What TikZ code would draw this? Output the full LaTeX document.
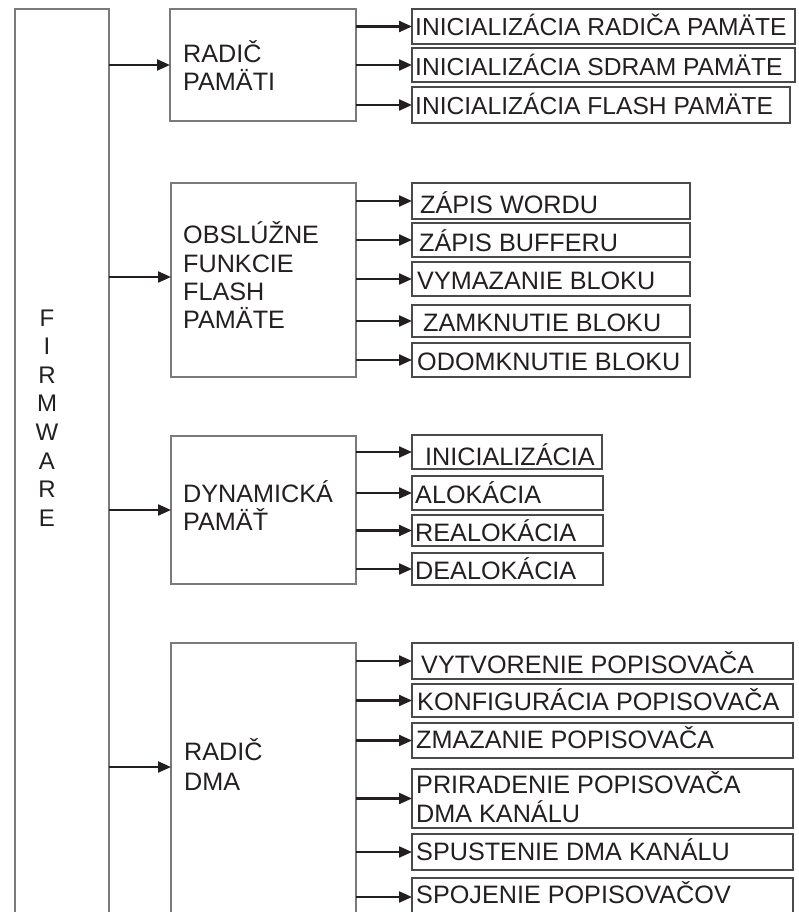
\documentclass[tikz,border=0pt]{standalone}
\usepackage{fontspec}
\setmainfont{Liberation Sans}
\usetikzlibrary{arrows.meta}
\definecolor{ink}{HTML}{231F20}
\definecolor{frame}{HTML}{7A7A7A}
\definecolor{subframe}{HTML}{4A4A4A}
\tikzset{
  mainbox/.style={draw=frame, line width=1.4pt, inner sep=0pt, outer sep=0pt},
  subbox/.style={draw=subframe, line width=1.4pt, inner sep=0pt, outer sep=0pt},
  arr/.style={draw=ink, line width=2.2pt, -{Triangle[length=13pt,width=11pt]}},
  lbl/.style={anchor=base west, inner sep=0pt, text=ink, font=\fontsize{25.2}{28}\selectfont},
  lblsmall/.style={lbl, font=\fontsize{24.6}{28}\selectfont},
}
\newcommand\bx[6]{\node[#1, minimum width={(#4-#2)*1pt}, minimum height={(#5-#3)*1pt}] (#6) at ({(#2+#4)/2},{(#3+#5)/2}) {};}
\begin{document}
\begin{tikzpicture}[x=1pt,y=-1pt]
\useasboundingbox (0,0) rectangle (798,912);
\clip (0,0) rectangle (798,912);
% firmware
\bx{mainbox}{15}{9}{109}{940}{fw}
\node[align=center, inner sep=0pt, text=ink, font=\fontsize{24}{28.6}\selectfont] (fwtext) at (47,418) {F\\I\\R\\M\\W\\A\\R\\E};
% main boxes
\bx{mainbox}{170}{9}{356}{121}{m1}
\bx{mainbox}{171}{183}{356}{377}{m2}
\bx{mainbox}{171}{436}{356}{584}{m3}
\bx{mainbox}{171}{643}{356}{940}{m4}
\coordinate (m2in) at (171,277);
\coordinate (m4in) at (171,767);
\node[lbl] (m1a) at (183,63) {RADIČ};
\node[lbl] (m1b) at (183,91) {PAMÄTI};
\node[lbl] (m2a) at (183,243) {OBSLÚŽNE};
\node[lbl] (m2b) at (183,272) {FUNKCIE};
\node[lbl] (m2c) at (183,300) {FLASH};
\node[lbl] (m2d) at (183,328) {PAMÄTE};
\node[lbl] (m3a) at (183,502) {DYNAMICKÁ};
\node[lbl] (m3b) at (183,530) {PAMÄŤ};
\node[lbl] (m4a) at (184,760) {RADIČ};
\node[lbl] (m4b) at (184,790) {DMA};
% group 1
\bx{subbox}{412}{9}{795}{44}{s11}
\bx{subbox}{412}{48}{795}{82}{s12}
\bx{subbox}{412}{87}{790}{123}{s13}
\node[lblsmall] (t11) at (415,36) {INICIALIZÁCIA RADIČA PAMÄTE};
\node[lblsmall] (t12) at (415,76) {INICIALIZÁCIA SDRAM PAMÄTE};
\node[lblsmall] (t13) at (415,115) {INICIALIZÁCIA FLASH PAMÄTE};
% group 2
\bx{subbox}{412}{183}{690}{219}{s21}
\bx{subbox}{412}{223}{690}{257}{s22}
\bx{subbox}{412}{262}{690}{296}{s23}
\bx{subbox}{412}{305}{690}{337}{s24}
\bx{subbox}{412}{343}{690}{377}{s25}
\node[lbl] (t21) at (420,213) {ZÁPIS WORDU};
\node[lbl] (t22) at (419,251) {ZÁPIS BUFFERU};
\node[lbl] (t23) at (417,289) {VYMAZANIE BLOKU};
\node[lbl] (t24) at (423,331) {ZAMKNUTIE BLOKU};
\node[lbl] (t25) at (417,370) {ODOMKNUTIE BLOKU};
% group 3
\bx{subbox}{412}{435}{602}{469}{s31}
\bx{subbox}{412}{476}{603}{510}{s32}
\bx{subbox}{412}{515}{603}{546}{s33}
\bx{subbox}{412}{553}{603}{585}{s34}
\node[lbl] (t31) at (425,465) {INICIALIZÁCIA};
\node[lbl] (t32) at (415,503) {ALOKÁCIA};
\node[lbl] (t33) at (415,541) {REALOKÁCIA};
\node[lbl] (t34) at (415,579) {DEALOKÁCIA};
% group 4
\bx{subbox}{412}{643}{793}{679}{s41}
\bx{subbox}{412}{684}{793}{717}{s42}
\bx{subbox}{412}{723}{793}{758}{s43}
\bx{subbox}{412}{769}{793}{828}{s44}
\bx{subbox}{412}{834}{793}{870}{s45}
\bx{subbox}{412}{878}{793}{916}{s46}
\node[lbl] (t41) at (421,673) {VYTVORENIE POPISOVAČA};
\node[lbl] (t42) at (417,710) {KONFIGURÁCIA POPISOVAČA};
\node[lbl] (t43) at (416,748) {ZMAZANIE POPISOVAČA};
\node[lbl] (t44a) at (416,793) {PRIRADENIE POPISOVAČA};
\node[lbl] (t44b) at (416,822) {DMA KANÁLU};
\node[lbl] (t45) at (416,860) {SPUSTENIE DMA KANÁLU};
\node[lbl] (t46) at (416,903) {SPOJENIE POPISOVAČOV};
% connectors firmware -> main
\draw[arr] (fw.east |- m1.west) -- (m1.west);
\draw[arr] (fw.east |- m2in) -- (m2in);
\draw[arr] (fw.east |- m3.west) -- (m3.west);
\draw[arr] (fw.east |- m4in) -- (m4in);
% connectors main -> sub
\foreach \s in {s11,s12,s13} \draw[arr] (m1.east |- \s.west) -- (\s.west);
\foreach \s in {s21,s22,s23,s24,s25} \draw[arr] (m2.east |- \s.west) -- (\s.west);
\foreach \s in {s31,s32,s33,s34} \draw[arr] (m3.east |- \s.west) -- (\s.west);
\foreach \s in {s41,s42,s43,s44,s45,s46} \draw[arr] (m4.east |- \s.west) -- (\s.west);
\end{tikzpicture}
\end{document}
